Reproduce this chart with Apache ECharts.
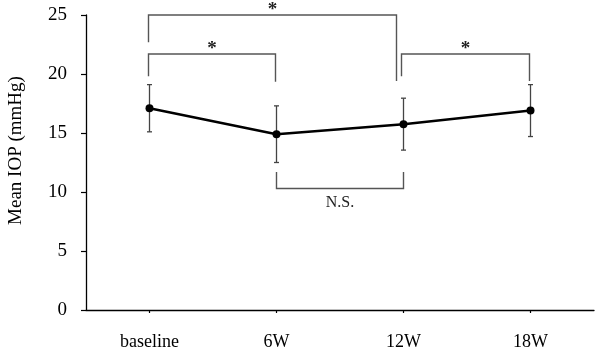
<!DOCTYPE html>
<html>
<head>
<meta charset="utf-8">
<script src="https://cdn.jsdelivr.net/npm/echarts@6/dist/echarts.min.js"></script>
<style>html,body{margin:0;padding:0;background:#fff}#c{width:600px;height:349px}</style>
</head>
<body>
<div id="c"></div>
<script>
var categories = ['baseline', '6W', '12W', '18W'];
var meanIOP = [17.1, 14.9, 15.75, 16.9];
var sdIOP = [2.0, 2.4, 2.2, 2.2];
var yTicks = [0, 5, 10, 15, 20, 25];
// brackets: [fromIdx, toIdx, barValue, leftLegEnd, rightLegEnd, label]
var brackets = [
  [0, 2, 25.0, 22.7, 19.4, '*'],
  [0, 1, 21.7, 19.8, 19.35, '*'],
  [2, 3, 21.7, 19.8, 19.4, '*'],
  [1, 2, 10.3, 11.7, 11.7, 'N.S.']
];

var FONT = '"Liberation Serif", "Times New Roman", serif';
var chart = echarts.init(document.getElementById('c'), null, {renderer: 'canvas'});

var errData = categories.map(function (c, i) { return [i, meanIOP[i] - sdIOP[i], meanIOP[i] + sdIOP[i]]; });
// pixel nudges for legs so adjacent brackets don't overlap
var legShift = [[0, -6], [0, 0], [-1, 0], [1, 1]];

chart.setOption({
  animation: false,
  grid: {left: 86, right: 6, top: 15, bottom: 39, containLabel: false, outerBoundsMode: 'none'},
  xAxis: {
    type: 'category',
    data: categories,
    boundaryGap: true,
    axisLine: {lineStyle: {color: '#000', width: 1.3}},
    axisTick: {show: true, alignWithLabel: true, length: 3, lineStyle: {color: '#000', width: 1.2}},
    axisLabel: {color: '#000', fontFamily: FONT, fontSize: 18, margin: 23},
    splitLine: {show: false}
  },
  yAxis: {
    type: 'value',
    min: yTicks[0],
    max: yTicks[yTicks.length - 1],
    interval: 5,
    name: 'Mean IOP (mmHg)',
    nameLocation: 'middle',
    nameGap: 60,
    nameRotate: 90,
    nameTextStyle: {color: '#000', fontFamily: FONT, fontSize: 19, padding: [0, 0, 0, 24]},
    axisLine: {show: true, lineStyle: {color: '#000', width: 1.3}},
    axisTick: {show: true, length: 5, lineStyle: {color: '#000', width: 1.2}},
    axisLabel: {color: '#000', fontFamily: FONT, fontSize: 19, margin: 19},
    splitLine: {show: false}
  },
  series: [
    {
      type: 'custom',
      name: 'sd',
      data: errData,
      z: 1,
      renderItem: function (params, api) {
        var x = api.value(0);
        var lo = api.coord([x, api.value(1)]);
        var hi = api.coord([x, api.value(2)]);
        var w = 2.5;
        var st = {stroke: '#444', lineWidth: 1.3};
        return {type: 'group', children: [
          {type: 'line', shape: {x1: lo[0], y1: lo[1], x2: hi[0], y2: hi[1]}, style: st},
          {type: 'line', shape: {x1: lo[0] - w, y1: lo[1], x2: lo[0] + w, y2: lo[1]}, style: st},
          {type: 'line', shape: {x1: hi[0] - w, y1: hi[1], x2: hi[0] + w, y2: hi[1]}, style: st}
        ]};
      }
    },
    {
      type: 'line',
      data: meanIOP,
      z: 3,
      symbol: 'circle',
      symbolSize: 8,
      itemStyle: {color: '#000'},
      lineStyle: {color: '#000', width: 2.5}
    },
    {
      type: 'custom',
      name: 'brackets',
      data: brackets,
      z: 2,
      renderItem: function (params, api) {
        var i = params.dataIndex;
        var b = brackets[i];
        var s = legShift[i];
        var pL = api.coord([b[0], b[2]]);
        var pR = api.coord([b[1], b[2]]);
        var pLe = api.coord([b[0], b[3]]);
        var pRe = api.coord([b[1], b[4]]);
        var xl = pL[0] + s[0] - 1, xr = pR[0] + s[1] - 1;
        var down = b[3] < b[2];
        var cx = (xl + xr) / 2;
        var txt = b[5];
        var ty = down ? pL[1] - 5 : pL[1] + 14;
        return {type: 'group', children: [
          {type: 'polyline', shape: {points: [[xl, pLe[1]], [xl, pL[1]], [xr, pR[1]], [xr, pRe[1]]]},
            style: {stroke: '#555', lineWidth: 1.4, fill: null}},
          {type: 'text', style: {text: txt, x: cx, y: ty, align: 'center', verticalAlign: 'middle',
            fill: '#222', font: (txt === '*' ? 'bold 19px ' : '16px ') + FONT}}
        ]};
      }
    }
  ]
});
</script>
</body>
</html>
